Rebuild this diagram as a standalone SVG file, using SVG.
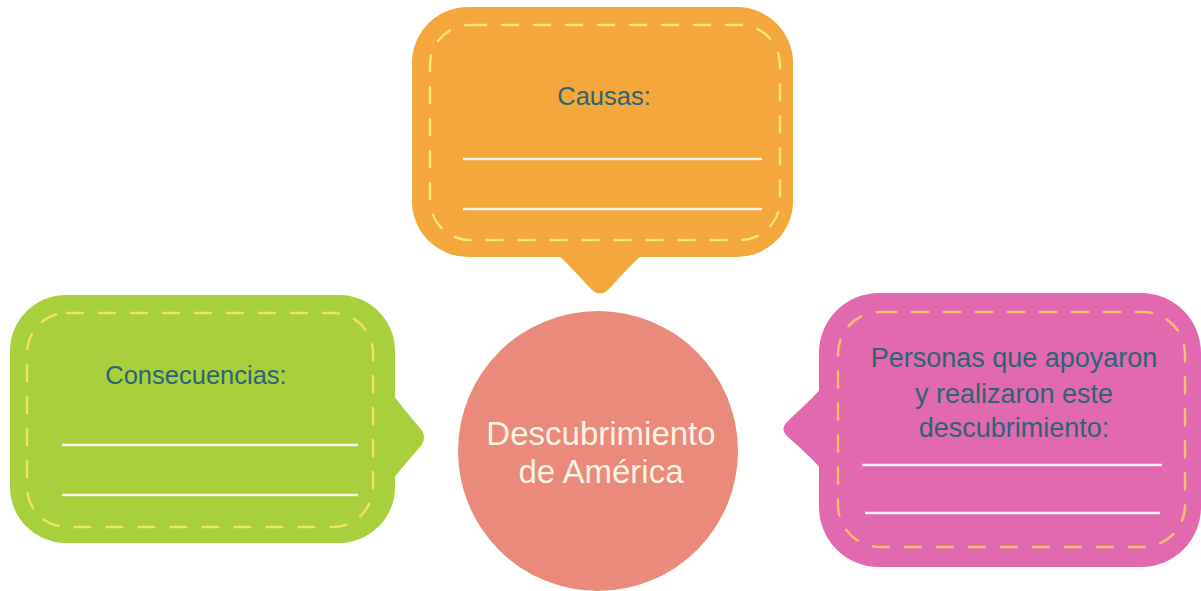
<svg xmlns="http://www.w3.org/2000/svg" width="1201" height="591" viewBox="0 0 1201 591">
<style>
.lbl{font-family:"Liberation Sans",Arial,sans-serif;fill:#2B6476;text-anchor:middle}
.dash{fill:none;stroke-width:2.5;stroke-dasharray:16 16;stroke-linecap:round}
.wl{stroke:#FCF3EE;stroke-width:2.5;fill:none}
.ctr{font-family:"Liberation Sans",Arial,sans-serif;fill:#FDF3E3;text-anchor:middle;font-size:33px}
</style>
<rect width="1201" height="591" fill="#FFFFFF"/>
<g id="connectors"></g>
<g id="causas">
<path d="M552,250 C560,256 566,262 591,289 Q600,298 609,289 C634,262 640,256 648,250 Z" fill="#F4A73A"/>
<rect x="412" y="7" width="381" height="250" rx="56" fill="#F4A73A"/>
<rect x="430" y="25" width="350" height="215" rx="40" class="dash" stroke="#F8E27A"/>
<text x="604" y="105" class="lbl" font-size="25.5">Causas:</text>
<line x1="463" y1="159" x2="762" y2="159" class="wl"/>
<line x1="463" y1="209" x2="762" y2="209" class="wl"/>
</g>
<g id="consecuencias">
<path d="M388,388 C394,396 398,402 420,428 Q428,437 420,447 C398,472 394,478 388,487 Z" fill="#A8CF3C"/>
<rect x="10" y="295" width="385" height="248" rx="56" fill="#A8CF3C"/>
<rect x="27" y="313" width="346" height="214" rx="40" class="dash" stroke="#F2E25E"/>
<text x="196" y="384" class="lbl" font-size="25.5">Consecuencias:</text>
<line x1="62" y1="445" x2="358" y2="445" class="wl"/>
<line x1="62" y1="495" x2="358" y2="495" class="wl"/>
</g>
<g id="personas">
<path d="M828,380 C822,388 816,395 788,421 Q779,429 788,437 C816,462 822,469 828,478 Z" fill="#E269B0"/>
<rect x="819" y="293" width="382" height="274" rx="60" fill="#E269B0"/>
<rect x="838" y="312" width="347" height="235" rx="42" class="dash" stroke="#F9C06A"/>
<text x="1014" y="367" class="lbl" font-size="27">Personas que apoyaron</text>
<text x="1014" y="403" class="lbl" font-size="27">y realizaron este</text>
<text x="1014" y="437" class="lbl" font-size="27">descubrimiento:</text>
<line x1="862" y1="465" x2="1162" y2="465" class="wl"/>
<line x1="865" y1="513" x2="1160" y2="513" class="wl"/>
</g>
<g id="descubrimiento">
<circle cx="598" cy="451" r="140" fill="#E98A7A"/>
<text x="601" y="445" class="ctr">Descubrimiento</text>
<text x="601" y="483" class="ctr">de América</text>
</g>
</svg>
